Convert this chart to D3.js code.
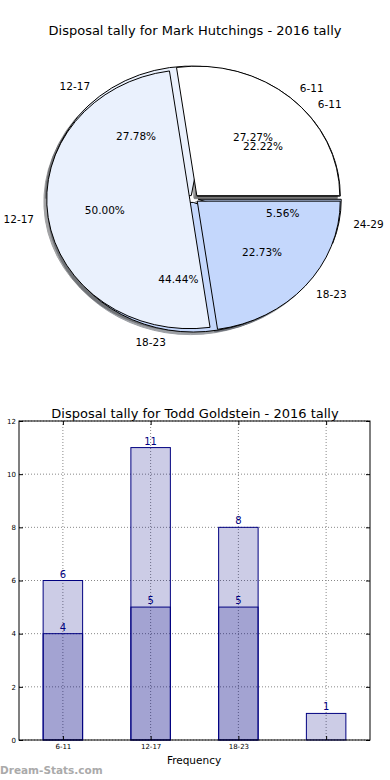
<!DOCTYPE html>
<html>
<head>
<meta charset="utf-8">
<script src="https://cdn.jsdelivr.net/npm/d3@7"></script>
<style>
  body { margin: 0; background: #fff; }
  svg { display: block; font-family: "DejaVu Sans", sans-serif; }
</style>
</head>
<body>
<svg id="chart" width="390" height="780"></svg>
<script>
// pie data (two pies drawn on top of each other)
const pieLabelsA = ['6-11', '12-17', '18-23'];
const pieValuesA = [6, 11, 5];
const pieLabelsB = ['6-11', '12-17', '18-23', '24-29'];
const pieValuesB = [4, 5, 8, 1];
const pieColors = ['#ffffff', '#eaf1fd', '#c4d7fc', '#c4d7fc'];

// bar data
const barTickLabels = ['6-11', '12-17', '18-23', ''];
const barTotals = [6, 11, 8, 1];
const barLower = [4, 5, 5];
const yTicks = [0, 2, 4, 6, 8, 10, 12];

const svg = d3.select('#chart');

// ---------- pie ----------
const cx = 194, cy = 198.6, rx = 143, ry = 129.5;
const explode = 0.03;

svg.append('text')
    .attr('x', 195)
    .attr('y', 35)
    .attr('text-anchor', 'middle')
    .attr('font-size', '13px')
    .text('Disposal tally for Mark Hutchings - 2016 tally');

const pieLayout = d3.pie()
    .sort(null)
    .startAngle(Math.PI / 2)
    .endAngle(Math.PI / 2 - 2 * Math.PI);

const arc = d3.arc().innerRadius(0).outerRadius(1);

function slices(values, labels) {
    const total = d3.sum(values);
    return pieLayout(values).map((a, i) => {
        const mid = (a.startAngle + a.endAngle) / 2;
        const ux = Math.sin(mid), uy = -Math.cos(mid);
        return {
            arc: a,
            label: labels[i],
            pct: d3.format('.2f')(values[i] / total * 100) + '%',
            color: pieColors[i],
            ux: ux,
            uy: uy,
            ox: cx + explode * rx * ux,
            oy: cy + explode * ry * uy
        };
    });
}

const slicesB = slices(pieValuesB, pieLabelsB);
const slicesA = slices(pieValuesA, pieLabelsA);

function darker(c) {
    const rgb = d3.rgb(c);
    return d3.rgb(rgb.r * 0.3, rgb.g * 0.3, rgb.b * 0.3).toString();
}

const pieG = svg.append('g');

// shadows sit below every wedge
for (const s of slicesB.concat(slicesA)) {
    pieG.append('path')
        .attr('d', arc(s.arc))
        .attr('transform', `translate(${s.ox - 0.02 * rx},${s.oy + 0.02 * ry}) scale(${rx},${ry})`)
        .attr('fill', darker(s.color))
        .attr('stroke', darker(s.color))
        .attr('stroke-width', 1)
        .attr('vector-effect', 'non-scaling-stroke')
        .attr('opacity', 0.5);
}

for (const s of slicesB.concat(slicesA)) {
    pieG.append('path')
        .attr('d', arc(s.arc))
        .attr('transform', `translate(${s.ox},${s.oy}) scale(${rx},${ry})`)
        .attr('fill', s.color)
        .attr('stroke', '#000')
        .attr('stroke-width', 1)
        .attr('vector-effect', 'non-scaling-stroke');
}

for (const s of slicesB.concat(slicesA)) {
    pieG.append('text')
        .attr('x', s.ox + 1.1 * rx * s.ux)
        .attr('y', s.oy + 1.1 * ry * s.uy)
        .attr('dy', '0.36em')
        .attr('text-anchor', s.ux > 0 ? 'start' : 'end')
        .attr('font-size', '10.5px')
        .text(s.label);
    pieG.append('text')
        .attr('x', s.ox + 0.6 * rx * s.ux)
        .attr('y', s.oy + 0.6 * ry * s.uy)
        .attr('dy', '0.36em')
        .attr('text-anchor', 'middle')
        .attr('font-size', '10.5px')
        .text(s.pct);
}

// ---------- bars ----------
const plot = { left: 19, right: 370, top: 421, bottom: 740 };
const w = plot.right - plot.left, h = plot.bottom - plot.top;

svg.append('text')
    .attr('x', 195)
    .attr('y', 418)
    .attr('text-anchor', 'middle')
    .attr('font-size', '13px')
    .text('Disposal tally for Todd Goldstein - 2016 tally');

const g = svg.append('g').attr('transform', `translate(${plot.left},${plot.top})`);

const xScale = d3.scaleBand()
    .domain(d3.range(barTotals.length))
    .range([0, w])
    .paddingInner(0.55)
    .paddingOuter(0.275);

const yScale = d3.scaleLinear().domain([0, 12]).range([h, 0]);

// grid
g.selectAll('.vgrid')
    .data(d3.range(barTotals.length))
    .enter().append('line')
    .attr('x1', d => xScale(d) + xScale.bandwidth() / 2)
    .attr('x2', d => xScale(d) + xScale.bandwidth() / 2)
    .attr('y1', 0).attr('y2', h)
    .attr('stroke', '#888').attr('stroke-dasharray', '1,2');

g.selectAll('.hgrid')
    .data(yTicks)
    .enter().append('line')
    .attr('x1', 0).attr('x2', w)
    .attr('y1', d => yScale(d)).attr('y2', d => yScale(d))
    .attr('stroke', '#888').attr('stroke-dasharray', '1,2');

function drawBars(values) {
    g.selectAll(null)
        .data(values)
        .enter().append('rect')
        .attr('x', (d, i) => xScale(i))
        .attr('y', d => yScale(d))
        .attr('width', xScale.bandwidth())
        .attr('height', d => h - yScale(d))
        .attr('fill', 'navy')
        .attr('fill-opacity', 0.2)
        .attr('stroke', 'navy')
        .attr('stroke-width', 1);
}
drawBars(barTotals);
drawBars(barLower);

function drawValueLabels(values) {
    g.selectAll(null)
        .data(values)
        .enter().append('text')
        .attr('x', (d, i) => xScale(i) + xScale.bandwidth() / 2)
        .attr('y', d => yScale(d) - 3)
        .attr('text-anchor', 'middle')
        .attr('font-size', '10px')
        .attr('fill', 'navy')
        .text(d => d);
}
drawValueLabels(barTotals);
drawValueLabels(barLower);

// axes, ticks point inwards on all sides
const xTickAxis = d3.scaleOrdinal()
    .domain(d3.range(barTotals.length))
    .range(d3.range(barTotals.length).map(i => xScale(i) + xScale.bandwidth() / 2));

g.append('g')
    .attr('transform', `translate(0,${h})`)
    .call(d3.axisBottom(xTickAxis).tickSizeInner(-4).tickSizeOuter(0).tickPadding(4)
        .tickFormat(i => barTickLabels[i]))
    .call(a => a.select('.domain').remove());

g.append('g')
    .call(d3.axisTop(xTickAxis).tickSizeInner(-4).tickSizeOuter(0).tickFormat(''))
    .call(a => a.select('.domain').remove());

g.append('g')
    .call(d3.axisLeft(yScale).tickValues(yTicks).tickSizeInner(-4).tickSizeOuter(0).tickPadding(3))
    .call(a => a.select('.domain').remove());

g.append('g')
    .attr('transform', `translate(${w},0)`)
    .call(d3.axisRight(yScale).tickValues(yTicks).tickSizeInner(-4).tickSizeOuter(0).tickFormat(''))
    .call(a => a.select('.domain').remove());

g.selectAll('.tick text')
    .attr('font-family', '"DejaVu Sans", sans-serif')
    .attr('font-size', '7px')
    .attr('fill', '#000');

g.append('rect')
    .attr('width', w).attr('height', h)
    .attr('fill', 'none').attr('stroke', '#000').attr('stroke-width', 1);

svg.append('text')
    .attr('x', 194)
    .attr('y', 764)
    .attr('text-anchor', 'middle')
    .attr('font-size', '10.5px')
    .text('Frequency');

svg.append('text')
    .attr('x', 0)
    .attr('y', 774)
    .attr('font-size', '10.5px')
    .attr('font-weight', 'bold')
    .attr('fill', '#aaa')
    .text('Dream-Stats.com');
</script>
</body>
</html>
